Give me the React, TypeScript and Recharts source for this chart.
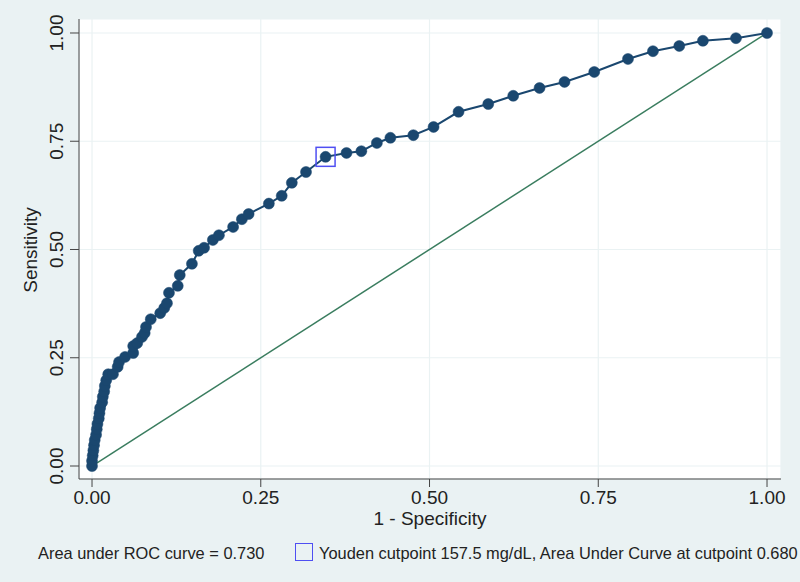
import React from 'react';
import {
  ComposedChart,
  Line,
  XAxis,
  YAxis,
  CartesianGrid,
  ReferenceDot
} from 'recharts';

// ROC curve points (1 - specificity, sensitivity)
const fpr = [
  0.0, 0.0, 0.001, 0.002, 0.003, 0.004, 0.006, 0.007, 0.008, 0.01, 0.011, 0.012,
  0.015, 0.016, 0.018, 0.019, 0.021, 0.024, 0.031, 0.038, 0.04, 0.049, 0.061, 0.061,
  0.067, 0.074, 0.078, 0.08, 0.087, 0.101, 0.107, 0.111, 0.114, 0.127, 0.13, 0.148,
  0.158, 0.166, 0.179, 0.188, 0.209, 0.222, 0.232, 0.262, 0.281, 0.296, 0.317, 0.346,
  0.377, 0.399, 0.422, 0.442, 0.476, 0.506, 0.543, 0.587, 0.624, 0.663, 0.7, 0.744,
  0.794, 0.831, 0.87, 0.905, 0.954, 1.0
];
const sensitivity = [
  0.0, 0.012, 0.024, 0.036, 0.048, 0.06, 0.072, 0.085, 0.097, 0.11, 0.122, 0.134,
  0.147, 0.16, 0.172, 0.185, 0.198, 0.212, 0.212, 0.229, 0.24, 0.252, 0.261, 0.277,
  0.284, 0.298, 0.307, 0.321, 0.339, 0.353, 0.365, 0.376, 0.4, 0.416, 0.441, 0.467,
  0.497, 0.504, 0.522, 0.533, 0.552, 0.57, 0.582, 0.606, 0.624, 0.654, 0.679, 0.714,
  0.723, 0.727, 0.746, 0.758, 0.764, 0.783, 0.818, 0.836, 0.855, 0.873, 0.887, 0.91,
  0.94, 0.958, 0.97, 0.982, 0.988, 1.0
];
const diagonalX = [0, 1];
const diagonalY = [0, 1];
const ticks = [0, 0.25, 0.5, 0.75, 1];
const tickLabels = ['0.00', '0.25', '0.50', '0.75', '1.00'];
const youden = { x: 0.346, y: 0.714 };

const rocData = fpr.map((x, i) => ({ x, roc: sensitivity[i] }));
const diagData = diagonalX.map((x, i) => ({ x, ref: diagonalY[i] }));

const BG = '#eaf2f3';
const NAVY = '#1a476f';
const GREEN = '#3a7d5f';
const BLUE = '#4f4ff2';
const FONT = '"Liberation Sans", Arial, Helvetica, sans-serif';

const fmt = (v: number) => tickLabels[ticks.indexOf(v)] ?? v.toFixed(2);

const YTick = (props: any) => {
  const { x, y, payload } = props;
  return (
    <text
      x={x}
      y={y}
      transform={`rotate(-90, ${x}, ${y})`}
      textAnchor="middle"
      fontSize={19}
      fontFamily={FONT}
      fill="#222"
    >
      {fmt(payload.value)}
    </text>
  );
};

const YoudenBox = (props: any) => {
  const { cx, cy } = props;
  return <rect x={cx - 9.5} y={cy - 9.5} width={19} height={19} fill="none" stroke={BLUE} strokeWidth={1.5} />;
};

export default function App() {
  return (
    <div
      style={{
        position: 'absolute',
        left: 0,
        top: 0,
        width: 800,
        height: 582,
        background: BG,
        fontFamily: FONT,
        color: '#222'
      }}
    >
      <ComposedChart
        width={800}
        height={582}
        margin={{ top: 19, right: 19, left: 0, bottom: 42 }}
      >
        <CartesianGrid fill="#ffffff" stroke={BG} strokeWidth={1.2} />
        <XAxis
          type="number"
          dataKey="x"
          domain={[-0.0193, 1.0207]}
          allowDataOverflow
          ticks={ticks}
          tickFormatter={fmt}
          height={61}
          tickSize={8}
          tickMargin={4}
          stroke="#444"
          tick={{ fontSize: 19, fontFamily: FONT, fill: '#222' }}
        />
        <YAxis
          type="number"
          domain={[-0.03, 1.0323]}
          allowDataOverflow
          ticks={ticks}
          width={79}
          tickSize={9}
          tickMargin={7}
          stroke="#444"
          tick={<YTick />}
        />
        <Line
          data={diagData}
          dataKey="ref"
          type="linear"
          stroke={GREEN}
          strokeWidth={1.5}
          dot={false}
          isAnimationActive={false}
        />
        <Line
          data={rocData}
          dataKey="roc"
          type="linear"
          stroke={NAVY}
          strokeWidth={2}
          dot={{ r: 5.5, fill: NAVY, stroke: NAVY, strokeWidth: 0.5 }}
          isAnimationActive={false}
        />
        <ReferenceDot x={youden.x} y={youden.y} shape={<YoudenBox />} />
      </ComposedChart>

      <div style={{ position: 'absolute', left: 0, width: 860, top: 508, textAlign: 'center', fontSize: 19 }}>
        1 - Specificity
      </div>
      <div
        style={{
          position: 'absolute',
          left: 31,
          top: 250,
          transform: 'translate(-50%, -50%) rotate(-90deg)',
          fontSize: 19,
          whiteSpace: 'nowrap'
        }}
      >
        Sensitivity
      </div>
      <div style={{ position: 'absolute', left: 38, top: 544, fontSize: 16.4, whiteSpace: 'nowrap' }}>
        Area under ROC curve = 0.730
      </div>
      <div
        style={{
          position: 'absolute',
          left: 295,
          top: 543,
          width: 16,
          height: 16,
          border: `1.5px solid ${BLUE}`
        }}
      />
      <div style={{ position: 'absolute', left: 319, top: 544, fontSize: 16.4, whiteSpace: 'nowrap' }}>
        Youden cutpoint 157.5 mg/dL, Area Under Curve at cutpoint 0.680
      </div>
    </div>
  );
}
